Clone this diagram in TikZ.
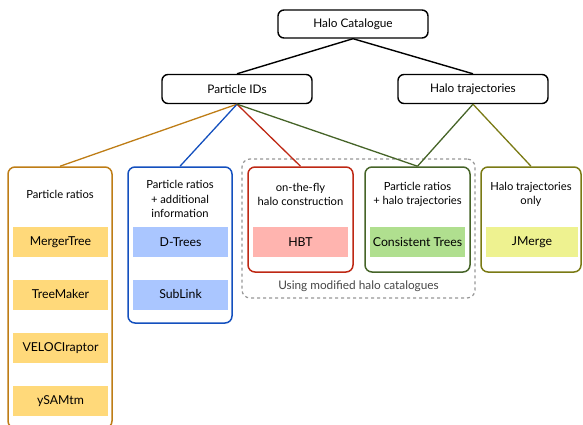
\documentclass[tikz,border=0pt]{standalone}
\usepackage{fontspec}
\setmainfont{Lato}
\definecolor{cOr}{RGB}{190,125,22}
\definecolor{cOrF}{RGB}{255,217,122}
\definecolor{cBl}{RGB}{20,80,190}
\definecolor{cBlF}{RGB}{170,198,255}
\definecolor{cRd}{RGB}{190,40,20}
\definecolor{cRdF}{RGB}{255,180,175}
\definecolor{cGr}{RGB}{70,100,40}
\definecolor{cGrF}{RGB}{176,223,143}
\definecolor{cOl}{RGB}{122,122,20}
\definecolor{cOlF}{RGB}{238,242,144}
\definecolor{cDash}{RGB}{150,150,150}
\definecolor{cLab}{RGB}{70,70,70}
\begin{document}
\begin{tikzpicture}[x=1pt,y=-1pt,
  topbox/.style={draw=black,line width=1.4pt,rounded corners=6pt,fill=white,minimum width=150pt,minimum height=28pt,inner sep=0pt,font=\fontsize{11.8}{13}\selectfont},
  catbox/.style={draw=#1,line width=1.5pt,rounded corners=7pt,fill=white,inner sep=0pt},
  tool/.style={fill=#1,minimum width=95pt,minimum height=30pt,inner sep=0pt,font=\fontsize{12.3}{13}\selectfont},
  desc/.style={align=center,font=\fontsize{11.2}{14.5}\selectfont,inner sep=0pt},
  conn/.style={draw=#1,line width=1.3pt}]
\useasboundingbox (0,0) rectangle (583,425);
% dashed group
\node[draw=cDash,dashed,line width=1.2pt,rounded corners=8pt,minimum width=233pt,minimum height=139pt,inner sep=0pt] (grp) at (358.5,228.5) {};
\node[text=cLab,font=\fontsize{11.8}{13}\selectfont,inner sep=0pt] (grplab) at (358.5,286) {Using modified halo catalogues};
% top nodes
\node[topbox] (hc) at (353,24) {Halo Catalogue};
\node[topbox,minimum height=29pt] (pi) at (237,89) {Particle IDs};
\node[topbox,minimum height=29pt] (ht) at (473,89) {Halo trajectories};
% category boxes
\node[catbox=cOr,minimum width=104pt,minimum height=261pt] (b1) at (60,297.5) {};
\node[catbox=cBl,minimum width=104pt,minimum height=156pt] (b2) at (180,245) {};
\node[catbox=cRd,minimum width=105pt,minimum height=105pt] (b3) at (300.5,219.5) {};
\node[catbox=cGr,minimum width=105pt,minimum height=105pt] (b4) at (417.5,219.5) {};
\node[catbox=cOl,minimum width=100pt,minimum height=105pt] (b5) at (531,219.5) {};
% connectors
\draw[line width=1.4pt] (hc.south) -- (pi.north);
\draw[line width=1.4pt] (hc.south) -- (ht.north);
\draw[conn=cOr] (pi.south) -- (b1.north);
\draw[conn=cBl] (pi.south) -- (b2.north);
\draw[conn=cRd] (pi.south) -- (b3.north);
\draw[conn=cGr] (pi.south) -- (b4.north);
\draw[conn=cGr] (ht.south) -- (b4.north);
\draw[conn=cOl] (ht.south) -- (b5.north);
% descriptions
\node[desc] (d1) at (60,194) {Particle ratios};
\node[desc] (d2) at (180,199) {Particle ratios\\+ additional\\information};
\node[desc] (d3) at (300.5,194.5) {on-the-fly\\halo construction};
\node[desc] (d4) at (417.5,194.5) {Particle ratios\\+ halo trajectories};
\node[desc] (d5) at (531,194.5) {Halo trajectories\\only};
% tools
\node[tool=cOrF] (t1) at (60.5,242) {MergerTree};
\node[tool=cOrF] (t2) at (60.5,294.5) {TreeMaker};
\node[tool=cOrF] (t3) at (60.5,348) {VELOCIraptor};
\node[tool=cOrF] (t4) at (60.5,401) {ySAMtm};
\node[tool=cBlF] (t5) at (180.5,242) {D-Trees};
\node[tool=cBlF] (t6) at (180.5,294.5) {SubLink};
\node[tool=cRdF] (t7) at (300.5,242) {HBT};
\node[tool=cGrF] (t8) at (417.5,242) {Consistent Trees};
\node[tool=cOlF,minimum width=92pt] (t9) at (532,242) {JMerge};
\end{tikzpicture}
\end{document}
